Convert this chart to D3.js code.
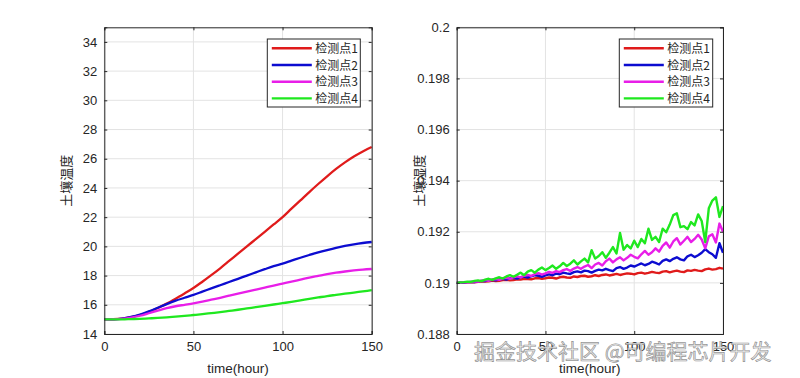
<!DOCTYPE html>
<html>
<head>
<meta charset="utf-8">
<script src="https://cdn.jsdelivr.net/npm/d3@7"></script>
<style>
  body { margin: 0; background: #fff; }
  svg { display: block; }
  text { font-family: "Liberation Sans", Arial, sans-serif; }
</style>
</head>
<body>
<svg id="chart" width="800" height="378"></svg>
<script>
// ---------- data ----------
const seriesNames = ["检测点1", "检测点2", "检测点3", "检测点4"];
const seriesColors = ["#e01b1b", "#0c0cd0", "#e81ee8", "#1fe81f"];

// left panel: soil temperature, sampled every 5 hours
const tempTime = [0,5,10,15,20,25,30,35,40,45,50,55,60,65,70,75,80,85,90,95,100,105,110,115,120,125,130,135,140,145,150];
const temp1 = [15.0,15.01,15.05,15.15,15.3,15.52,15.78,16.08,16.42,16.78,17.15,17.58,18.03,18.5,19.0,19.5,20.0,20.5,21.0,21.5,22.0,22.58,23.15,23.72,24.27,24.8,25.3,25.75,26.15,26.5,26.8];
const temp2 = [15.0,15.01,15.06,15.17,15.33,15.55,15.8,16.05,16.28,16.48,16.68,16.9,17.12,17.34,17.56,17.78,18.0,18.22,18.44,18.65,18.82,19.02,19.22,19.41,19.59,19.75,19.9,20.03,20.14,20.23,20.3];
const temp3 = [15.0,15.01,15.04,15.12,15.25,15.42,15.6,15.77,15.9,16.0,16.1,16.22,16.35,16.48,16.62,16.76,16.9,17.04,17.18,17.32,17.45,17.58,17.72,17.86,17.98,18.1,18.2,18.28,18.35,18.41,18.45];
const temp4 = [15.0,15.0,15.0,15.02,15.04,15.07,15.1,15.14,15.19,15.24,15.3,15.36,15.43,15.5,15.58,15.66,15.75,15.84,15.93,16.02,16.11,16.2,16.3,16.4,16.5,16.6,16.68,16.76,16.84,16.92,17.0];

// right panel: soil humidity, sampled every 2 hours
const humTime = [0,2,4,6,8,10,12,14,16,18,20,22,24,26,28,30,32,34,36,38,40,42,44,46,48,50,52,54,56,58,60,62,64,66,68,70,72,74,76,78,80,82,84,86,88,90,92,94,96,98,100,102,104,106,108,110,112,114,116,118,120,122,124,126,128,130,132,134,136,138,140,142,144,146,148,150];
const hum1 = [0.19000,0.19001,0.19000,0.19002,0.19003,0.19002,0.19004,0.19006,0.19005,0.19006,0.19009,0.19007,0.19008,0.19011,0.19012,0.19010,0.19011,0.19014,0.19013,0.19016,0.19015,0.19014,0.19018,0.19019,0.19016,0.19018,0.19021,0.19020,0.19017,0.19022,0.19024,0.19021,0.19020,0.19025,0.19023,0.19027,0.19028,0.19024,0.19026,0.19030,0.19027,0.19031,0.19033,0.19029,0.19032,0.19035,0.19031,0.19034,0.19037,0.19036,0.19033,0.19038,0.19040,0.19036,0.19039,0.19043,0.19040,0.19038,0.19044,0.19046,0.19041,0.19045,0.19048,0.19044,0.19042,0.19049,0.19047,0.19051,0.19048,0.19046,0.19053,0.19056,0.19052,0.19054,0.19059,0.19056];
const hum2 = [0.19000,0.19001,0.19001,0.19003,0.19004,0.19003,0.19006,0.19008,0.19007,0.19010,0.19012,0.19010,0.19014,0.19016,0.19013,0.19018,0.19020,0.19017,0.19022,0.19025,0.19021,0.19026,0.19030,0.19028,0.19024,0.19029,0.19033,0.19030,0.19036,0.19034,0.19040,0.19037,0.19035,0.19042,0.19045,0.19041,0.19048,0.19046,0.19040,0.19047,0.19052,0.19049,0.19055,0.19050,0.19046,0.19058,0.19062,0.19055,0.19060,0.19068,0.19064,0.19070,0.19076,0.19069,0.19074,0.19083,0.19078,0.19072,0.19086,0.19092,0.19085,0.19094,0.19100,0.19092,0.19088,0.19104,0.19110,0.19101,0.19108,0.19118,0.19132,0.19120,0.19112,0.19098,0.19155,0.19118];
const hum3 = [0.19000,0.19001,0.19003,0.19002,0.19004,0.19006,0.19005,0.19009,0.19011,0.19008,0.19013,0.19015,0.19012,0.19018,0.19020,0.19016,0.19022,0.19026,0.19021,0.19028,0.19031,0.19027,0.19034,0.19038,0.19032,0.19037,0.19043,0.19039,0.19046,0.19042,0.19050,0.19054,0.19047,0.19056,0.19062,0.19055,0.19064,0.19070,0.19058,0.19072,0.19078,0.19068,0.19085,0.19095,0.19080,0.19092,0.19100,0.19088,0.19098,0.19110,0.19102,0.19096,0.19112,0.19125,0.19110,0.19120,0.19135,0.19122,0.19145,0.19158,0.19138,0.19162,0.19175,0.19150,0.19165,0.19180,0.19160,0.19172,0.19188,0.19170,0.19135,0.19182,0.19190,0.19158,0.19232,0.19200];
const hum4 = [0.19000,0.19002,0.19003,0.19005,0.19004,0.19008,0.19010,0.19007,0.19013,0.19016,0.19012,0.19018,0.19022,0.19017,0.19025,0.19030,0.19024,0.19032,0.19040,0.19030,0.19044,0.19050,0.19040,0.19052,0.19060,0.19050,0.19058,0.19068,0.19055,0.19065,0.19078,0.19066,0.19075,0.19088,0.19072,0.19084,0.19095,0.19080,0.19128,0.19095,0.19105,0.19120,0.19098,0.19118,0.19140,0.19115,0.19195,0.19130,0.19148,0.19135,0.19165,0.19140,0.19172,0.19155,0.19212,0.19168,0.19180,0.19160,0.19212,0.19198,0.19228,0.19265,0.19272,0.19218,0.19222,0.19210,0.19238,0.19225,0.19268,0.19242,0.19160,0.19292,0.19322,0.19335,0.19258,0.19300];

const xTicks = [0, 50, 100, 150];
const tempTicks = [14,16,18,20,22,24,26,28,30,32,34];
const humTicks = [0.188,0.19,0.192,0.194,0.196,0.198,0.2];
const xLabel = "time(hour)";
const tempLabel = "土壤温度";
const humLabel = "土壤湿度";
const watermark = "掘金技术社区 @可编程芯片开发";

// ---------- drawing ----------
const svg = d3.select("#chart");
const TXT = "#262626";

function panel(cfg) {
  const {left, right, top, bottom, xDomain, yDomain, yTicks, yFmt, time, series, ylab, legendX, legendW, curve, lw} = cfg;
  const x = d3.scaleLinear().domain(xDomain).range([left, right]);
  const y = d3.scaleLinear().domain(yDomain).range([bottom, top]);
  const g = svg.append("g");

  // grid
  g.append("g").selectAll("line").data(xTicks).join("line")
    .attr("x1", d => x(d)).attr("x2", d => x(d)).attr("y1", top).attr("y2", bottom)
    .attr("stroke", "#e3e3e3").attr("stroke-width", 1);
  g.append("g").selectAll("line").data(yTicks).join("line")
    .attr("x1", left).attr("x2", right).attr("y1", d => y(d)).attr("y2", d => y(d))
    .attr("stroke", "#e3e3e3").attr("stroke-width", 1);

  // lines
  const line = d3.line().x((d, i) => x(time[i])).y(d => y(d)).curve(curve);
  series.forEach((s, k) => {
    g.append("path").datum(s).attr("d", line)
      .attr("fill", "none").attr("stroke", seriesColors[k])
      .attr("stroke-width", lw).attr("stroke-linejoin", "round");
  });

  // axes (ticks inward, box)
  const axB = d3.axisBottom(x).tickValues(xTicks).tickSize(-3).tickPadding(8).tickFormat(d3.format("d"));
  const axT = d3.axisTop(x).tickValues(xTicks).tickSize(-3).tickFormat("");
  const axL = d3.axisLeft(y).tickValues(yTicks).tickSize(-3).tickPadding(7).tickFormat(yFmt);
  const axR = d3.axisRight(y).tickValues(yTicks).tickSize(-3).tickFormat("");
  [[axB, `translate(0,${bottom})`], [axT, `translate(0,${top})`], [axL, `translate(${left},0)`], [axR, `translate(${right},0)`]]
    .forEach(([ax, tr]) => {
      const a = g.append("g").attr("transform", tr).call(ax);
      a.select(".domain").attr("stroke", TXT).attr("stroke-width", 1);
      a.selectAll(".tick line").attr("stroke", TXT);
      a.selectAll(".tick text").attr("fill", TXT).style("font-size", "13px")
        .style("font-family", '"Liberation Sans", Arial, sans-serif');
    });

  // axis labels
  g.append("text").attr("x", (left + right) / 2).attr("y", 373).attr("text-anchor", "middle")
    .attr("fill", TXT).style("font-size", "13.5px").text(xLabel);
  g.append("text").attr("transform", `translate(${left - 33},${(top + bottom) / 2}) rotate(-90)`)
    .attr("text-anchor", "middle").attr("fill", TXT)
    .style("font-family", '"Noto Sans CJK SC", sans-serif').style("font-size", "13px").text(ylab);

  // legend
  const ly = 39, rowH = 16.7;
  const lg = g.append("g");
  lg.append("rect").attr("x", legendX).attr("y", ly).attr("width", legendW).attr("height", 68)
    .attr("fill", "#fff").attr("stroke", TXT).attr("stroke-width", 1);
  seriesNames.forEach((n, k) => {
    const cy = ly + 9.3 + k * rowH;
    lg.append("line").attr("x1", legendX + 4.5).attr("x2", legendX + 44.5).attr("y1", cy).attr("y2", cy)
      .attr("stroke", seriesColors[k]).attr("stroke-width", 2.4);
    lg.append("text").attr("x", legendX + 48).attr("y", cy + 4.5).attr("fill", TXT)
      .style("font-family", '"Noto Sans CJK SC", sans-serif').style("font-size", "12px").text(n);
  });
}

panel({left: 104.3, right: 371.7, top: 27.3, bottom: 334, xDomain: [0, 150], yDomain: [14, 35],
  yTicks: tempTicks, yFmt: d3.format("d"), time: tempTime, series: [temp1, temp2, temp3, temp4],
  ylab: tempLabel, legendX: 267.3, legendW: 93, curve: d3.curveMonotoneX, lw: 2.3});
panel({left: 456.7, right: 723, top: 27.3, bottom: 334, xDomain: [0, 150], yDomain: [0.188, 0.2],
  yTicks: humTicks, yFmt: d => String(+d.toFixed(3)), time: humTime, series: [hum1, hum2, hum3, hum4],
  ylab: humLabel, legendX: 619.3, legendW: 93.4, curve: d3.curveLinear, lw: 2.4});

// watermark
svg.append("text").attr("x", 474).attr("y", 359)
  .style("font-family", '"Noto Sans CJK SC", sans-serif').style("font-size", "21px")
  .attr("fill", "#e8e8e8").attr("fill-opacity", 0.85)
  .attr("stroke", "#7a7a7a").attr("stroke-width", 0.7).attr("stroke-opacity", 0.8)
  .text(watermark);
</script>
</body>
</html>
